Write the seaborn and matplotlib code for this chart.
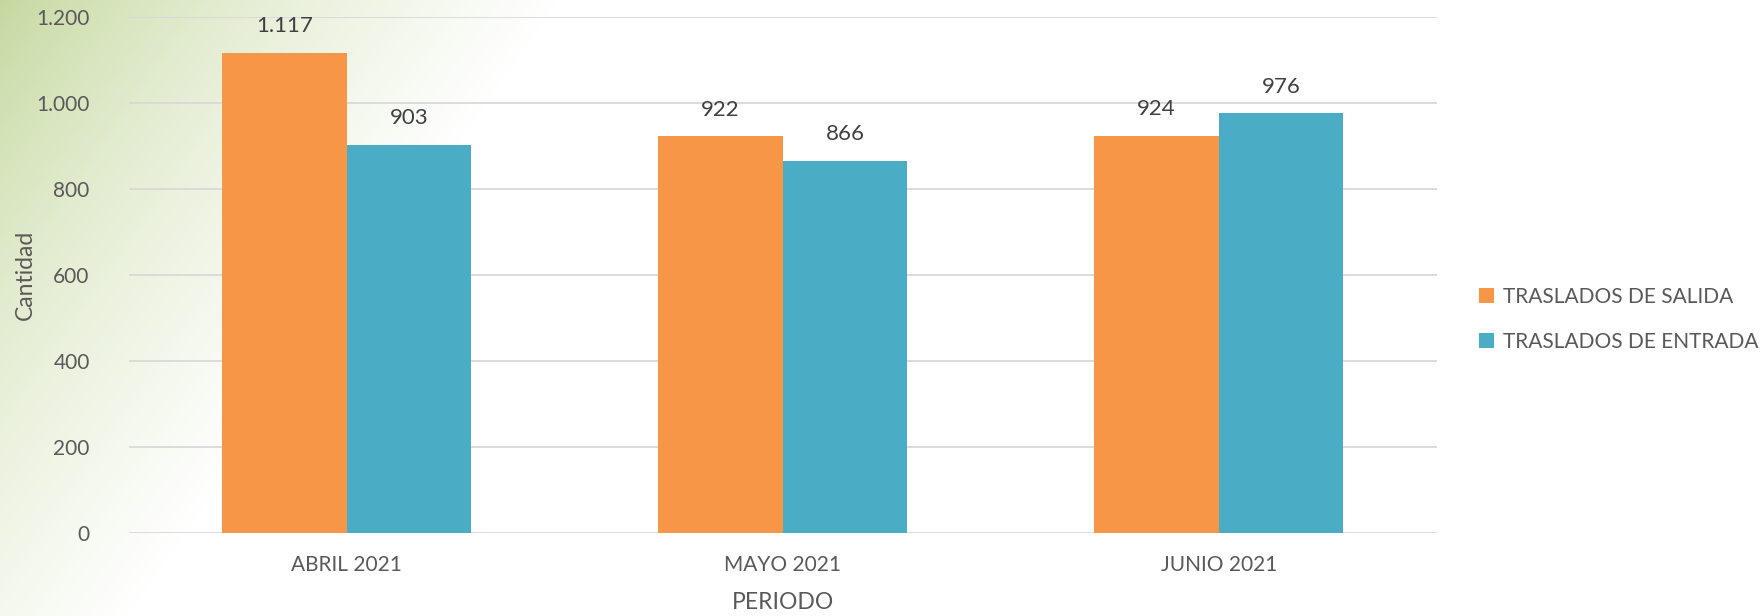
import numpy as np
import pandas as pd
import matplotlib
matplotlib.use("Agg")
import matplotlib.pyplot as plt
import seaborn as sns
from matplotlib.colors import LinearSegmentedColormap

periods = ["ABRIL 2021", "MAYO 2021", "JUNIO 2021"]
series_names = ["TRASLADOS DE SALIDA", "TRASLADOS DE ENTRADA"]
salida = [1117, 922, 924]
entrada = [903, 866, 976]
colors = ["#F79646", "#4BACC6"]
y_ticks = [0, 200, 400, 600, 800, 1000, 1200]

df = pd.DataFrame({
    "periodo": periods * 2,
    "serie": [series_names[0]] * 3 + [series_names[1]] * 3,
    "valor": salida + entrada,
})

sns.set_theme(style="white")
plt.rcParams["font.family"] = ["Lato", "DejaVu Sans"]
TXT = "#595959"

W, H = 1763, 616
fig = plt.figure(figsize=(W / 100, H / 100), dpi=100)

# background gradient
bg = fig.add_axes([0, 0, 1, 1], zorder=-10)
xx, yy = np.meshgrid(np.arange(W), np.arange(H))
t = np.clip((xx + 0.7 * yy) / 560.0, 0, 1) ** 0.8
cmap = LinearSegmentedColormap.from_list("g", ["#C4D89E", "#E4EDD2", "#FFFFFF"])
bg.imshow(t, cmap=cmap, aspect="auto", extent=[0, W, H, 0], vmin=0, vmax=1)
bg.axis("off")

ax = fig.add_axes([128.6 / W, 1 - 533 / H, (1437 - 128.6) / W, (533 - 16.9) / H])
ax.patch.set_alpha(0)
sns.barplot(data=df, x="periodo", y="valor", hue="serie", palette=colors,
            width=0.571, saturation=1, ax=ax, legend=True, zorder=3, linewidth=0)
ax.set_ylim(0, 1200)
ax.set_yticks(y_ticks)
ax.set_yticklabels([f"{v:,}".replace(",", ".") for v in y_ticks])
ax.grid(axis="y", color="#D9D9D9", linewidth=1.3, zorder=0)
ax.set_axisbelow(True)
for s in ax.spines.values():
    s.set_visible(False)
ax.tick_params(axis="both", length=0, labelsize=15, colors=TXT)
ax.tick_params(axis="x", pad=16)
ax.tick_params(axis="y", pad=28)
ax.set_xlabel("PERIODO", fontsize=16.5, color=TXT, labelpad=12)
ax.set_ylabel("Cantidad", fontsize=16.5, color=TXT, labelpad=0)

for cont in ax.containers:
    labels = [f"{int(round(b.get_height())):,}".replace(",", ".") for b in cont]
    ax.bar_label(cont, labels=labels, padding=12, fontsize=16, color="#404040")

handles, lbls = ax.get_legend_handles_labels()
ax.legend_.remove()
leg = fig.legend(handles, lbls, loc="center left", bbox_to_anchor=(1460 / W, 1 - 319 / H),
                 frameon=False, fontsize=15, handlelength=0.75, handleheight=0.75,
                 handletextpad=0.4, labelspacing=1.2, labelcolor=TXT)

fig.savefig("out.png", dpi=100)
